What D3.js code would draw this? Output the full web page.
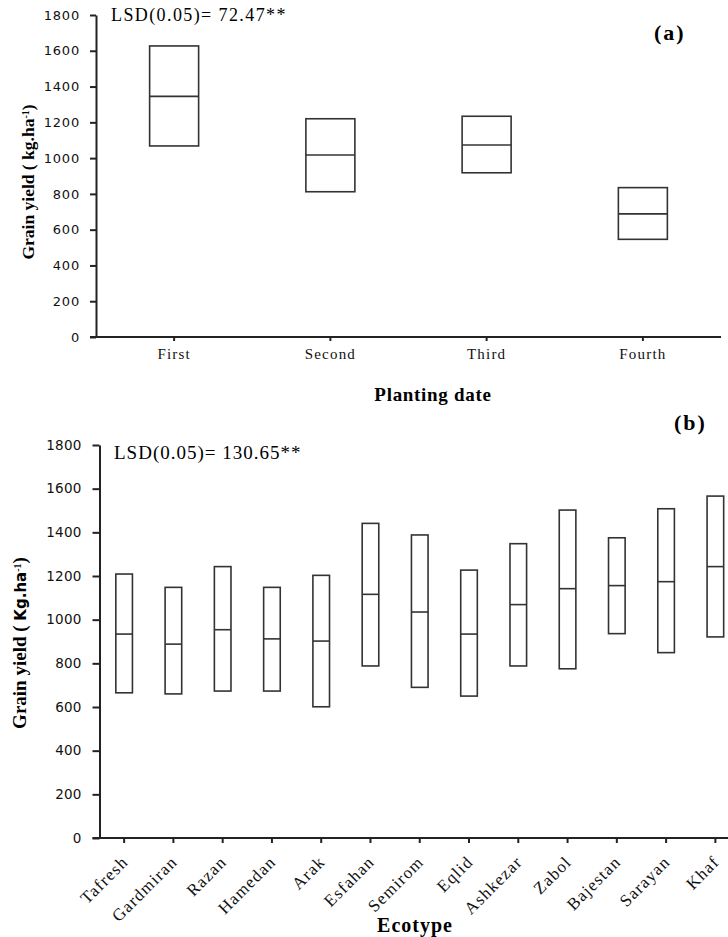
<!DOCTYPE html>
<html>
<head>
<meta charset="utf-8">
<script src="https://cdn.jsdelivr.net/npm/d3@7"></script>
<style>
  body { margin: 0; background: #fff; }
  .serif { font-family: "Liberation Serif", "Times New Roman", serif; }
  .ytick text { font-family: "DejaVu Sans", sans-serif; fill: #111; }
</style>
</head>
<body>
<svg id="chart" width="728" height="937"></svg>
<script>
// (a) planting date
const datesA = ["First", "Second", "Third", "Fourth"];
const lowA = [1068, 812, 918, 546];
const midA = [1345, 1017, 1073, 688];
const highA = [1627, 1220, 1234, 835];

// (b) ecotype
const ecotypes = ["Tafresh", "Gardmiran", "Razan", "Hamedan", "Arak", "Esfahan", "Semirom",
  "Eqlid", "Ashkezar", "Zabol", "Bajestan", "Sarayan", "Khaf"];
const lowB = [665, 660, 673, 673, 601, 788, 690, 650, 788, 775, 936, 849, 921];
const midB = [934, 888, 954, 912, 902, 1116, 1035, 934, 1069, 1142, 1156, 1174, 1243];
const highB = [1209, 1148, 1243, 1148, 1203, 1441, 1388, 1227, 1348, 1502, 1375, 1508, 1566];

const yTicks = [0, 200, 400, 600, 800, 1000, 1200, 1400, 1600, 1800];

let svg = d3.select("#chart");

function drawPanel(cfg) {
  let g = svg.append("g");
  let data = cfg.cats.map((c, i) => ({cat: c, low: cfg.low[i], mid: cfg.mid[i], high: cfg.high[i]}));

  let x = d3.scaleBand().domain(cfg.cats).range([cfg.left, cfg.right]).padding(0);
  let y = d3.scaleLinear().domain([0, 1800]).range([cfg.bottom, cfg.top]);

  // y axis
  let ya = g.append("g")
    .attr("class", "ytick")
    .attr("transform", `translate(${cfg.left}, 0)`)
    .call(d3.axisLeft(y).tickValues(yTicks).tickFormat(d3.format("d"))
      .tickSize(cfg.yTickSize).tickSizeOuter(0).tickPadding(cfg.yPad));
  ya.selectAll("text").style("font-size", cfg.yFont + "px").style("letter-spacing", cfg.ySpacing + "px");
  ya.selectAll("path, line").attr("stroke", "#222").attr("stroke-width", 2);

  // x axis
  let xa = g.append("g")
    .attr("transform", `translate(0, ${cfg.bottom})`)
    .call(d3.axisBottom(x).tickSize(cfg.xTickSize).tickSizeOuter(0));
  xa.selectAll("path, line").attr("stroke", "#222").attr("stroke-width", 2);
  xa.select(".domain").attr("d", `M${cfg.left - cfg.yTickSize},0H${cfg.right}`);
  let xt = xa.selectAll("text")
    .attr("class", "serif")
    .attr("fill", "#111")
    .style("font-size", cfg.xFont + "px")
    .style("letter-spacing", cfg.xSpacing + "px");
  if (cfg.rotate) {
    xt.attr("x", 0).attr("y", 0).attr("dy", 0)
      .attr("text-anchor", "end")
      .attr("transform", `translate(5, 25) rotate(-45)`);
  } else {
    xt.attr("y", cfg.xLabelDy).attr("dy", 0);
  }

  // boxes
  let bw = x.bandwidth() * cfg.boxFrac;
  let boxes = g.selectAll(".box").data(data).join("g").attr("class", "box");
  boxes.append("rect")
    .attr("x", d => x(d.cat) + x.bandwidth() / 2 - bw / 2)
    .attr("y", d => y(d.high))
    .attr("width", bw)
    .attr("height", d => y(d.low) - y(d.high))
    .attr("fill", "#fff")
    .attr("stroke", "#333")
    .attr("stroke-width", 1.6);
  boxes.append("line")
    .attr("x1", d => x(d.cat) + x.bandwidth() / 2 - bw / 2)
    .attr("x2", d => x(d.cat) + x.bandwidth() / 2 + bw / 2)
    .attr("y1", d => y(d.mid))
    .attr("y2", d => y(d.mid))
    .attr("stroke", "#333")
    .attr("stroke-width", 1.6);

  return g;
}

let gA = drawPanel({
  cats: datesA, low: lowA, mid: midA, high: highA,
  left: 96, right: 721, top: 15, bottom: 337,
  yTickSize: 6, yPad: 10, yFont: 13, ySpacing: 0.8,
  xTickSize: 4, xFont: 15, xSpacing: 1.2, xLabelDy: 22,
  boxFrac: 0.3136, rotate: false
});

let gB = drawPanel({
  cats: ecotypes, low: lowB, mid: midB, high: highB,
  left: 99.5, right: 740, top: 445, bottom: 838,
  yTickSize: 7, yPad: 11, yFont: 13.5, ySpacing: 0.2,
  xTickSize: 5, xFont: 17, xSpacing: 1.2,
  boxFrac: 0.337, rotate: true
});

// titles and notes, panel (a)
gA.append("text").attr("class", "serif")
  .attr("x", 111).attr("y", 21)
  .style("font-size", "18px").style("letter-spacing", "1.4px")
  .text("LSD(0.05)= 72.47**");
gA.append("text").attr("class", "serif")
  .attr("x", 654).attr("y", 40)
  .style("font-size", "22px").style("font-weight", "bold").style("letter-spacing", "2px")
  .text("(a)");
gA.append("text").attr("class", "serif")
  .attr("x", 433).attr("y", 401).attr("text-anchor", "middle")
  .style("font-size", "19px").style("font-weight", "bold").style("letter-spacing", "0.7px")
  .text("Planting date");
let ytA = gA.append("text").attr("class", "serif")
  .attr("transform", "translate(34, 182) rotate(-90)")
  .attr("text-anchor", "middle")
  .style("font-size", "17.5px").style("font-weight", "bold");
ytA.append("tspan").text("Grain yield ( kg.ha");
ytA.append("tspan").attr("baseline-shift", "super").style("font-size", "10px").text("-1");
ytA.append("tspan").text(")");

// titles and notes, panel (b)
gB.append("text").attr("class", "serif")
  .attr("x", 114).attr("y", 459)
  .style("font-size", "19px").style("letter-spacing", "1px")
  .text("LSD(0.05)= 130.65**");
gB.append("text").attr("class", "serif")
  .attr("x", 674).attr("y", 430)
  .style("font-size", "22px").style("font-weight", "bold").style("letter-spacing", "2px")
  .text("(b)");
gB.append("text").attr("class", "serif")
  .attr("x", 415).attr("y", 932).attr("text-anchor", "middle")
  .style("font-size", "20px").style("font-weight", "bold").style("letter-spacing", "1px")
  .text("Ecotype");
let ytB = gB.append("text").attr("class", "serif")
  .attr("transform", "translate(26, 643) rotate(-90)")
  .attr("text-anchor", "middle")
  .style("font-size", "19px").style("font-weight", "bold");
ytB.append("tspan").text("Grain yield ( ");
ytB.append("tspan").style("font-family", "'DejaVu Sans', sans-serif").style("font-size", "15px").text("Kg.ha");
ytB.append("tspan").attr("baseline-shift", "super").style("font-size", "10px").text("-1");
ytB.append("tspan").text(")");
</script>
</body>
</html>
